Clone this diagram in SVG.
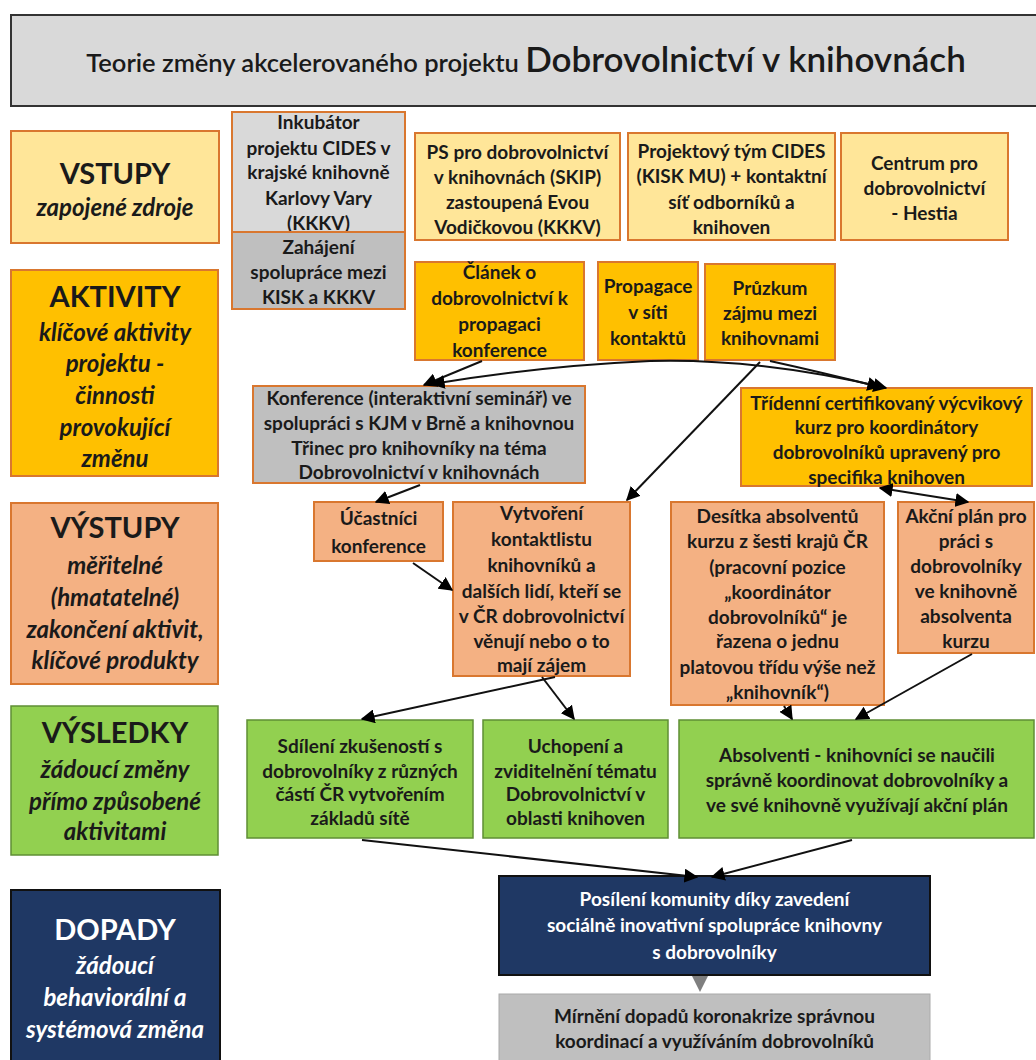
<svg xmlns="http://www.w3.org/2000/svg" width="1036" height="1060" viewBox="0 0 1036 1060">
<defs>
<style>
text{font-family:Lato,"Open Sans","Liberation Sans",sans-serif;text-anchor:middle;fill:#1a1a1a}
.t{font-size:19px;font-weight:700}
.h{font-size:29px;font-weight:700}
.s{font-size:24px;font-weight:700;font-style:italic}
.w{fill:#ffffff}
.in{fill:#ffe699;stroke:#d9772f;stroke-width:2}
.act{fill:#ffc000;stroke:#d9772f;stroke-width:2}
.out{fill:#f4b183;stroke:#d9772f;stroke-width:2}
.res{fill:#92d050;stroke:#5f8f35;stroke-width:1.5}
.imp{fill:#1f3864;stroke:#111;stroke-width:2}
.g1{fill:#d9d9d9;stroke:#d9772f;stroke-width:2}
.g2{fill:#bfbfbf;stroke:#d9772f;stroke-width:2}
.g3{fill:#bfbfbf;stroke:#aaa;stroke-width:1}
.c{fill:none;stroke:#111;stroke-width:2}
</style>
<marker id="a" viewBox="0 0 10 10" refX="9" refY="5" markerWidth="7" markerHeight="7" markerUnits="strokeWidth" orient="auto"><path d="M0,0 L10,5 L0,10 z" fill="#000"/></marker>
<marker id="as" viewBox="0 0 10 10" refX="1" refY="5" markerWidth="7" markerHeight="7" markerUnits="strokeWidth" orient="auto"><path d="M10,0 L0,5 L10,10 z" fill="#000"/></marker>
</defs>
<rect width="1036" height="1060" fill="#fff"/>

<g id="title">
<rect x="11" y="15" width="1030" height="91" fill="#d9d9d9" stroke="#333" stroke-width="2"/>
<text x="526" y="72" font-weight="600"><tspan font-size="25.5">Teorie změny akcelerovaného projektu </tspan><tspan font-size="35">Dobrovolnictví v knihovnách</tspan></text>
</g>

<g id="lbl-vstupy">
<rect class="in" x="11" y="131" width="208" height="112"/>
<text class="h" x="115" y="184">VSTUPY</text>
<text class="s" x="115" y="216">zapojené zdroje</text>
</g>
<g id="lbl-aktivity">
<rect class="act" x="11" y="270" width="207" height="206"/>
<text class="h" x="115" y="307">AKTIVITY</text>
<text class="s" x="115" y="341">klíčové aktivity</text>
<text class="s" x="115" y="372">projektu -</text>
<text class="s" x="115" y="404">činnosti</text>
<text class="s" x="115" y="436">provokující</text>
<text class="s" x="115" y="467">změnu</text>
</g>
<g id="lbl-vystupy">
<rect class="out" x="11" y="503" width="207" height="181"/>
<text class="h" x="115" y="538">VÝSTUPY</text>
<text class="s" x="115" y="574">měřitelné</text>
<text class="s" x="115" y="606">(hmatatelné)</text>
<text class="s" x="115" y="638">zakončení aktivit,</text>
<text class="s" x="115" y="669">klíčové produkty</text>
</g>
<g id="lbl-vysledky">
<rect class="res" x="11" y="706" width="207" height="149"/>
<text class="h" x="115" y="743">VÝSLEDKY</text>
<text class="s" x="115" y="778">žádoucí změny</text>
<text class="s" x="115" y="810">přímo způsobené</text>
<text class="s" x="115" y="840">aktivitami</text>
</g>
<g id="lbl-dopady">
<rect class="imp" x="11" y="890" width="209" height="180"/>
<text class="h w" x="115" y="940">DOPADY</text>
<text class="s w" x="115" y="974">žádoucí</text>
<text class="s w" x="115" y="1006">behaviorální a</text>
<text class="s w" x="115" y="1038">systémová změna</text>
</g>

<g id="n-inkubator">
<rect class="g1" x="232" y="112" width="173" height="120"/>
<text class="t" x="318.5" y="129">Inkubátor</text>
<text class="t" x="318.5" y="155">projektu CIDES v</text>
<text class="t" x="318.5" y="179">krajské knihovně</text>
<text class="t" x="318.5" y="205">Karlovy Vary</text>
<text class="t" x="318.5" y="230">(KKKV)</text>
</g>
<g id="n-zahajeni">
<rect class="g2" x="232" y="232" width="173" height="77"/>
<text class="t" x="318.5" y="254">Zahájení</text>
<text class="t" x="318.5" y="279">spolupráce mezi</text>
<text class="t" x="318.5" y="304">KISK a KKKV</text>
</g>
<g id="n-ps">
<rect class="in" x="415" y="133" width="205" height="107"/>
<text class="t" x="517.5" y="159">PS pro dobrovolnictví</text>
<text class="t" x="517.5" y="184">v knihovnách (SKIP)</text>
<text class="t" x="517.5" y="209">zastoupená Evou</text>
<text class="t" x="517.5" y="234">Vodičkovou (KKKV)</text>
</g>
<g id="n-tym">
<rect class="in" x="628" y="133" width="207" height="107"/>
<text class="t" x="731.5" y="158">Projektový tým CIDES</text>
<text class="t" x="731.5" y="183">(KISK MU) + kontaktní</text>
<text class="t" x="731.5" y="209">síť odborníků a</text>
<text class="t" x="731.5" y="234">knihoven</text>
</g>
<g id="n-centrum">
<rect class="in" x="841" y="133" width="167" height="107"/>
<text class="t" x="924.5" y="170">Centrum pro</text>
<text class="t" x="924.5" y="195">dobrovolnictví</text>
<text class="t" x="924.5" y="220">- Hestia</text>
</g>

<g id="n-clanek">
<rect class="act" x="415" y="262" width="169" height="98"/>
<text class="t" x="499.5" y="279">Článek o</text>
<text class="t" x="499.5" y="305">dobrovolnictví k</text>
<text class="t" x="499.5" y="331">propagaci</text>
<text class="t" x="499.5" y="357">konference</text>
</g>
<g id="n-propagace">
<rect class="act" x="598" y="262" width="100" height="98"/>
<text class="t" x="648" y="293">Propagace</text>
<text class="t" x="648" y="319">v síti</text>
<text class="t" x="648" y="345">kontaktů</text>
</g>
<g id="n-pruzkum">
<rect class="act" x="705" y="264" width="130" height="96"/>
<text class="t" x="770" y="295">Průzkum</text>
<text class="t" x="770" y="320">zájmu mezi</text>
<text class="t" x="770" y="345">knihovnami</text>
</g>
<g id="n-konference">
<rect class="g2" x="253" y="386" width="332" height="97"/>
<text class="t" x="419" y="405">Konference (interaktivní seminář) ve</text>
<text class="t" x="419" y="430">spolupráci s KJM v Brně a knihovnou</text>
<text class="t" x="419" y="455">Třinec pro knihovníky na téma</text>
<text class="t" x="419" y="479">Dobrovolnictví v knihovnách</text>
</g>
<g id="n-tridenni">
<rect class="act" x="741" y="388" width="291" height="98"/>
<text class="t" x="886.5" y="410">Třídenní certifikovaný výcvikový</text>
<text class="t" x="886.5" y="434">kurz pro koordinátory</text>
<text class="t" x="886.5" y="459">dobrovolníků upravený pro</text>
<text class="t" x="886.5" y="484">specifika knihoven</text>
</g>

<g id="n-ucastnici">
<rect class="out" x="314" y="502" width="129" height="59"/>
<text class="t" x="378.5" y="525">Účastníci</text>
<text class="t" x="378.5" y="553">konference</text>
</g>
<g id="n-vytvoreni">
<rect class="out" x="453" y="502" width="177" height="174"/>
<text class="t" x="541.5" y="520">Vytvoření</text>
<text class="t" x="541.5" y="546">kontaktlistu</text>
<text class="t" x="541.5" y="572">knihovníků a</text>
<text class="t" x="541.5" y="598">dalších lidí, kteří se</text>
<text class="t" x="541.5" y="623">v ČR dobrovolnictví</text>
<text class="t" x="541.5" y="648">věnují nebo o to</text>
<text class="t" x="541.5" y="672">mají zájem</text>
</g>
<g id="n-desitka">
<rect class="out" x="671" y="502" width="213" height="203"/>
<text class="t" x="777.5" y="523">Desítka absolventů</text>
<text class="t" x="777.5" y="548">kurzu z šesti krajů ČR</text>
<text class="t" x="777.5" y="574">(pracovní pozice</text>
<text class="t" x="777.5" y="599">„koordinátor</text>
<text class="t" x="777.5" y="624">dobrovolníků“ je</text>
<text class="t" x="777.5" y="648">řazena o jednu</text>
<text class="t" x="777.5" y="674">platovou třídu výše než</text>
<text class="t" x="777.5" y="699">„knihovník“)</text>
</g>
<g id="n-akcni">
<rect class="out" x="898" y="502" width="136" height="151"/>
<text class="t" x="966" y="523">Akční plán pro</text>
<text class="t" x="966" y="548">práci s</text>
<text class="t" x="966" y="573">dobrovolníky</text>
<text class="t" x="966" y="598">ve  knihovně</text>
<text class="t" x="966" y="623">absolventa</text>
<text class="t" x="966" y="648">kurzu</text>
</g>

<g id="n-sdileni">
<rect class="res" x="247" y="720" width="226" height="118"/>
<text class="t" x="360" y="753">Sdílení zkušeností s</text>
<text class="t" x="360" y="778">dobrovolníky z různých</text>
<text class="t" x="360" y="801">částí ČR vytvořením</text>
<text class="t" x="360" y="825">základů sítě</text>
</g>
<g id="n-uchopeni">
<rect class="res" x="483" y="720" width="185" height="118"/>
<text class="t" x="575.5" y="753">Uchopení a</text>
<text class="t" x="575.5" y="778">zviditelnění tématu</text>
<text class="t" x="575.5" y="801">Dobrovolnictví v</text>
<text class="t" x="575.5" y="825">oblasti knihoven</text>
</g>
<g id="n-absolventi">
<rect class="res" x="679" y="720" width="355" height="118"/>
<text class="t" x="857" y="762">Absolventi - knihovníci se naučili</text>
<text class="t" x="857" y="787">správně koordinovat dobrovolníky a</text>
<text class="t" x="857" y="812">ve své knihovně využívají akční plán</text>
</g>

<g id="n-posileni">
<rect class="imp" x="499" y="876" width="431" height="99"/>
<text class="t w" x="714.5" y="906">Posílení komunity díky zavedení</text>
<text class="t w" x="714.5" y="932">sociálně inovativní spolupráce knihovny</text>
<text class="t w" x="714.5" y="959">s dobrovolníky</text>
</g>
<g id="n-mirneni">
<rect class="g3" x="499" y="994" width="431" height="76"/>
<text class="t" x="714.5" y="1023">Mírnění dopadů koronakrize správnou</text>
<text class="t" x="714.5" y="1048">koordinací a využíváním dobrovolníků</text>
</g>

<g id="connectors">
<path class="c" marker-end="url(#a)" d="M482,361 L424,385"/>
<path class="c" marker-end="url(#a)" d="M650,361 Q540,366 432,384"/>
<path class="c" marker-end="url(#a)" d="M650,361 Q760,358 886,388"/>
<path class="c" marker-end="url(#a)" d="M770,361 Q820,372 880,387"/>
<path class="c" marker-end="url(#a)" d="M760,362 L627,500"/>
<path class="c" marker-end="url(#a)" d="M420,485 L376,502"/>
<path class="c" marker-end="url(#a)" d="M413,563 L452,590"/>
<path class="c" marker-start="url(#as)" marker-end="url(#a)" d="M880,488 L968,502"/>
<path class="c" marker-end="url(#a)" d="M555,677 L362,719"/>
<path class="c" marker-end="url(#a)" d="M542,677 L574,719"/>
<path class="c" marker-end="url(#a)" d="M784,706 L792,719"/>
<path class="c" marker-end="url(#a)" d="M972,654 L856,719"/>
<path class="c" marker-end="url(#a)" d="M362,840 Q520,858 697,877"/>
<path class="c" marker-end="url(#a)" d="M852,840 L712,877"/>
<path d="M692,976 L708,976 L700,992 z" fill="#7f7f7f"/>
</g>
</svg>
